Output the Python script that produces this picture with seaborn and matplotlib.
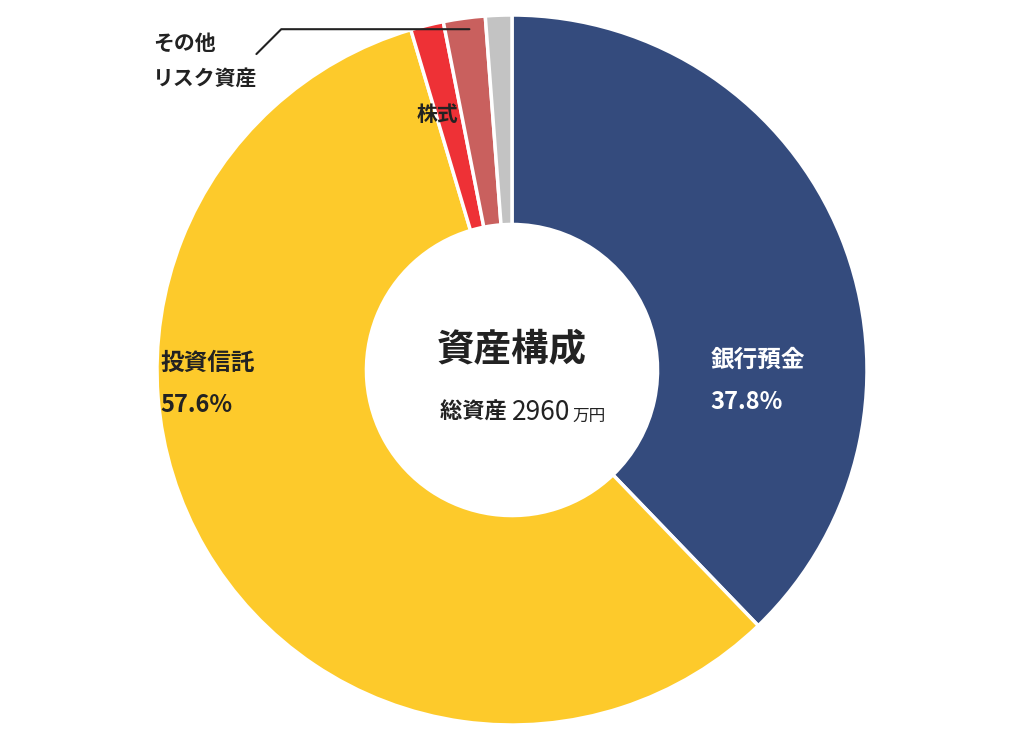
import matplotlib
matplotlib.use("Agg")
import matplotlib.pyplot as plt
import seaborn as sns

sns.set_theme(style="white")
plt.rcParams["font.family"] = "Noto Sans CJK JP"

labels = ["銀行預金", "投資信託", "株式", "その他リスク資産", "その他"]
shares = [37.8, 57.6, 1.5, 1.9, 1.2]
colors = ["#344b7d", "#fdca2b", "#ee3136", "#c9605e", "#c3c3c3"]

fig = plt.figure(figsize=(10.24, 7.42), dpi=100)
ax = fig.add_axes([157 / 1024, 17 / 742, 710 / 1024, 710 / 742])
ax.pie(shares, colors=colors, startangle=90, counterclock=False, radius=1,
       wedgeprops=dict(width=0.59, edgecolor="white", linewidth=2.5))
ax.set_xlim(-1, 1)
ax.set_ylim(-1, 1)
ax.set_aspect("equal")
ax.axis("off")

ax.text(0.56, 0.03, "銀行預金", color="white", fontsize=17, fontweight="bold", va="center")
ax.text(0.56, -0.09, f"{shares[0]}%", color="white", fontsize=17, fontweight="bold", va="center")
ax.text(-0.99, 0.02, "投資信託", color="#222222", fontsize=17, fontweight="bold", va="center")
ax.text(-0.99, -0.1, f"{shares[1]}%", color="#222222", fontsize=17, fontweight="bold", va="center")
ax.text(0, 0.06, "資産構成", fontsize=27, fontweight="bold", ha="center", va="center", color="#222222")
ax.text(0, -0.12, "総資産 ", fontsize=16, fontweight="bold", ha="right", va="center", color="#222222")
ax.text(0.0, -0.12, "2960", fontsize=19, ha="left", va="center", color="#222222")
ax.text(0.17, -0.13, "万円", fontsize=12, ha="left", va="center", color="#222222")
ax.text(-0.21, 0.72, "株式", fontsize=15, fontweight="bold", ha="center", va="center", color="#222222")
ax.text(-1.01, 0.92, "その他", fontsize=15, fontweight="bold", ha="left", va="center", color="#222222")
ax.text(-1.01, 0.82, "リスク資産", fontsize=15, fontweight="bold", ha="left", va="center", color="#222222")
ax.plot([-0.72, -0.65, -0.12], [0.89, 0.96, 0.96], color="#222222", lw=1.5, clip_on=False)

fig.savefig("out.png", dpi=100, facecolor="white")
